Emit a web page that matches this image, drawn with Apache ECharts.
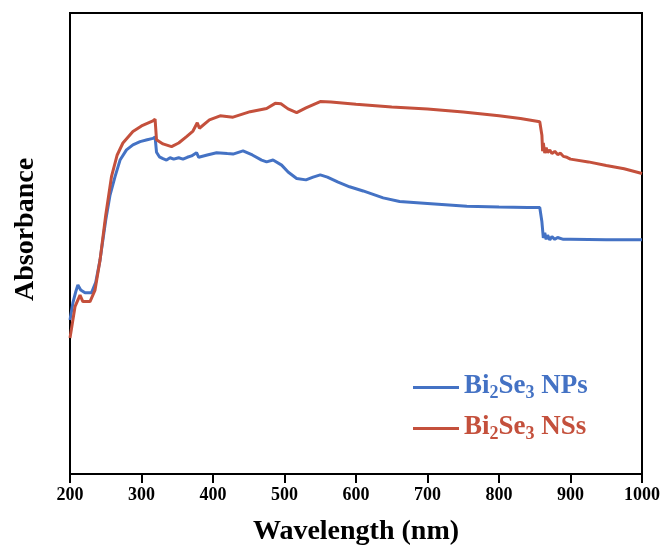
<!DOCTYPE html>
<html>
<head>
<meta charset="utf-8">
<script src="https://cdn.jsdelivr.net/npm/echarts@6/dist/echarts.min.js"></script>
<style>
  html, body { margin: 0; padding: 0; background: #fff; }
  #chart { width: 665px; height: 554px; }
</style>
</head>
<body>
<div id="chart"></div>
<script>
// absorbance in arbitrary units (0 = bottom of frame, 100 = top)
const npsWavelength = [200, 204, 208, 211, 215, 221, 230, 236, 242, 250, 256, 263, 270, 279, 288, 298, 308, 316, 319,
  321, 325, 330, 335, 340, 345, 352, 358, 364, 370, 377, 380, 392, 405, 420, 428, 442, 455, 468, 475, 484, 496, 505,
  517, 530, 540, 550, 560, 575, 591, 610, 638, 661, 700, 755, 800, 840, 857, 859, 860, 862, 864, 866, 868, 871, 874,
  878, 882, 890, 900, 950, 1000]
const npsAbsorbance = [33.4, 37.1, 39.5, 41.0, 39.9, 39.3, 39.3, 41.6, 46.4, 55.1, 60.5, 64.5, 68.1, 70.3, 71.4, 72.1, 72.5, 72.8, 73.1,
  69.8, 68.8, 68.4, 68.1, 68.6, 68.3, 68.6, 68.3, 68.7, 69.0, 69.7, 68.7, 69.2, 69.7, 69.5, 69.4, 70.1, 69.2, 68.1, 67.7, 68.1, 67.0, 65.5,
  64.1, 63.8, 64.4, 64.9, 64.4, 63.3, 62.3, 61.4, 59.9, 59.1, 58.7, 58.1, 57.9, 57.8, 57.8, 57.6, 54.7, 51.2, 52.3, 50.9, 51.8, 50.8, 51.5,
  50.9, 51.3, 50.9, 50.9, 50.8, 50.8]

const nssWavelength = [200, 202, 207, 214, 218, 228, 235, 242, 250, 258, 266, 274, 288, 300, 316, 319,
  321, 330, 342, 352, 363, 372, 378, 381, 395, 410, 428, 452, 475, 487, 495, 505, 517, 530, 550, 565,
  600, 650, 700, 750, 800, 830, 857, 859, 860, 861, 862, 864, 866, 868, 871, 874, 878, 882, 886, 890, 895,
  900, 925, 950, 975, 1000]
const nssAbsorbance = [29.5, 29.8, 36.3, 38.8, 37.4, 37.4, 39.9, 46.4, 56.2, 64.5, 69.2, 71.8, 74.3, 75.5, 76.6, 77.0,
  72.5, 71.6, 71.0, 71.8, 73.2, 74.4, 76.2, 75.0, 76.8, 77.7, 77.4, 78.6, 79.3, 80.4, 80.3, 79.2, 78.4, 79.4, 80.8, 80.7,
  80.2, 79.6, 79.2, 78.5, 77.7, 77.1, 76.4, 76.3, 73.5, 70.0, 71.8, 69.6, 70.8, 69.7, 70.3, 69.5, 70.0, 69.3, 69.6, 68.9, 68.7,
  68.3, 67.7, 66.9, 66.2, 65.2]

const xTicks = [200, 300, 400, 500, 600, 700, 800, 900, 1000]

const seriesNames = ['Bi2Se3 NPs', 'Bi2Se3 NSs']
const blue = '#4472C4'
const red = '#C4503C'
const serif = '"Liberation Serif", "Times New Roman", serif'

function pairs (xs, ys) {
  return xs.map((x, i) => [x, ys[i]])
}

// legend text with subscripts, one style set per colour
function legendRich (color) {
  return {
    n: { fontSize: 27, fontWeight: 'bold', fontFamily: serif, color: color, lineHeight: 29, verticalAlign: 'top' },
    s: { fontSize: 18, fontWeight: 'bold', fontFamily: serif, color: color, lineHeight: 29, verticalAlign: 'bottom' }
  }
}

function legendLabel (name) {
  const tail = name.split(' ')[1]
  return '{n|Bi}{s|2}{n|Se}{s|3}{n| ' + tail + '}'
}

const chart = echarts.init(document.getElementById('chart'))

chart.setOption({
  animation: false,
  backgroundColor: '#fff',
  grid: {
    left: 70,
    right: 23,
    top: 13,
    bottom: 80,
    show: true,
    borderColor: '#000',
    borderWidth: 2
  },
  legend: [
    {
      data: [seriesNames[0]],
      left: 408,
      top: 368,
      icon: 'rect',
      itemWidth: 46,
      itemHeight: 3,
      itemGap: 8,
      formatter: legendLabel,
      textStyle: { rich: legendRich(blue) }
    },
    {
      data: [seriesNames[1]],
      left: 408,
      top: 409,
      icon: 'rect',
      itemWidth: 46,
      itemHeight: 3,
      itemGap: 8,
      formatter: legendLabel,
      textStyle: { rich: legendRich(red) }
    }
  ],
  xAxis: {
    type: 'value',
    min: xTicks[0],
    max: xTicks[xTicks.length - 1],
    interval: 100,
    name: 'Wavelength (nm)',
    nameLocation: 'middle',
    nameGap: 44,
    nameTextStyle: { fontFamily: serif, fontWeight: 'bold', fontSize: 28, color: '#000' },
    axisLine: { lineStyle: { color: '#000', width: 2 } },
    axisTick: { show: true, length: 9, lineStyle: { color: '#000', width: 2 } },
    axisLabel: {
      fontFamily: serif, fontWeight: 'bold', fontSize: 18, color: '#000', margin: 12,
      formatter: (v) => String(v)
    },
    splitLine: { show: false }
  },
  yAxis: {
    type: 'value',
    min: 0,
    max: 100,
    name: 'Absorbance',
    nameLocation: 'middle',
    nameGap: 30,
    nameTextStyle: { fontFamily: serif, fontWeight: 'bold', fontSize: 28, color: '#000', padding: [0, 0, 0, 28] },
    axisLine: { show: true, lineStyle: { color: '#000', width: 2 } },
    axisTick: { show: false },
    axisLabel: { show: false },
    splitLine: { show: false }
  },
  series: [
    {
      name: seriesNames[0],
      type: 'line',
      data: pairs(npsWavelength, npsAbsorbance),
      showSymbol: false,
      color: blue,
      lineStyle: { color: blue, width: 3 }
    },
    {
      name: seriesNames[1],
      type: 'line',
      data: pairs(nssWavelength, nssAbsorbance),
      showSymbol: false,
      color: red,
      lineStyle: { color: red, width: 3 }
    }
  ]
})
</script>
</body>
</html>
